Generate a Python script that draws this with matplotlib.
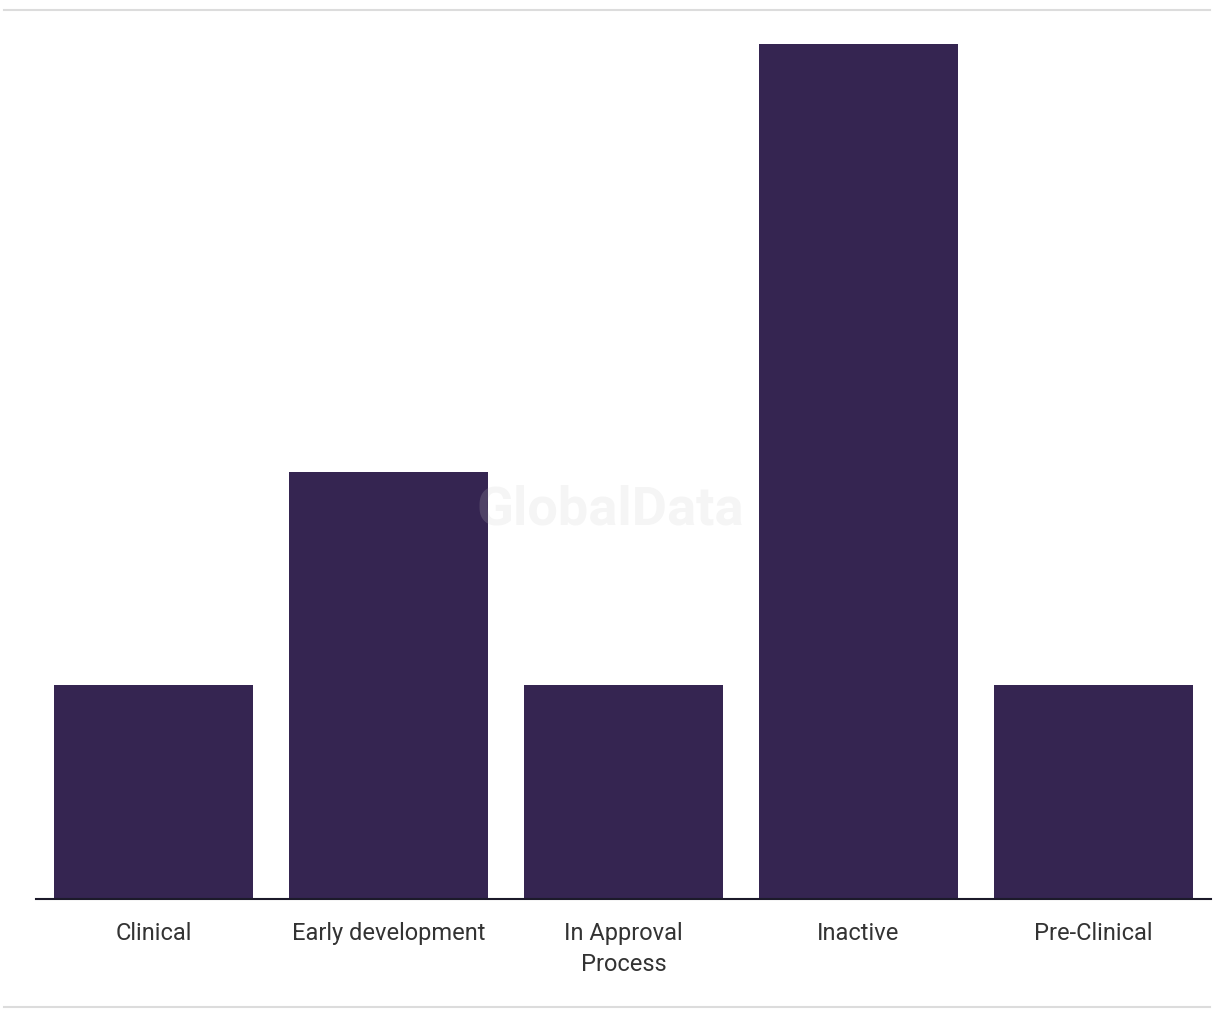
import matplotlib.pyplot as plt
from matplotlib.lines import Line2D

# ── DATA ──────────────────────────────────────────────────────────────────────
stages = ['Clinical', 'Early development', 'In Approval\nProcess', 'Inactive', 'Pre-Clinical']
counts = [1, 2, 1, 4, 1]

bar_color = '#352551'

plt.rcParams['font.family'] = ['Roboto', 'DejaVu Sans']

fig = plt.figure(figsize=(12.2, 10.2), dpi=100)
ax = fig.add_axes([36 / 1220, 120 / 1020, 1175 / 1220, 855 / 1020])

ax.bar(range(len(stages)), counts, width=0.85, color=bar_color, zorder=2)
ax.set_xlim(-0.5, len(stages) - 0.5)
ax.set_ylim(0, 4)

ax.set_xticks(range(len(stages)))
ax.set_xticklabels(stages, fontsize=17, color='#333333', linespacing=1.45)
ax.tick_params(axis='x', length=0, pad=15.5)
ax.set_yticks([])

for s in ['top', 'right', 'left']:
    ax.spines[s].set_visible(False)
ax.spines['bottom'].set_color('#1c1a2a')
ax.spines['bottom'].set_linewidth(1.5)
ax.spines['bottom'].set_zorder(3)

# watermark
fig.text(0.5, 0.5, 'GlobalData', ha='center', va='center', fontsize=39,
         fontweight='bold', color='#c8c8c8', alpha=0.18, zorder=10)

# top / bottom rules
fig.add_artist(Line2D([4 / 1220, 1210 / 1220], [1 - 11 / 1020] * 2, color='#dcdcdc', lw=1.5))
fig.add_artist(Line2D([4 / 1220, 1210 / 1220], [1 - 1008 / 1020] * 2, color='#dcdcdc', lw=1.5))

plt.savefig('out.png', dpi=100)
